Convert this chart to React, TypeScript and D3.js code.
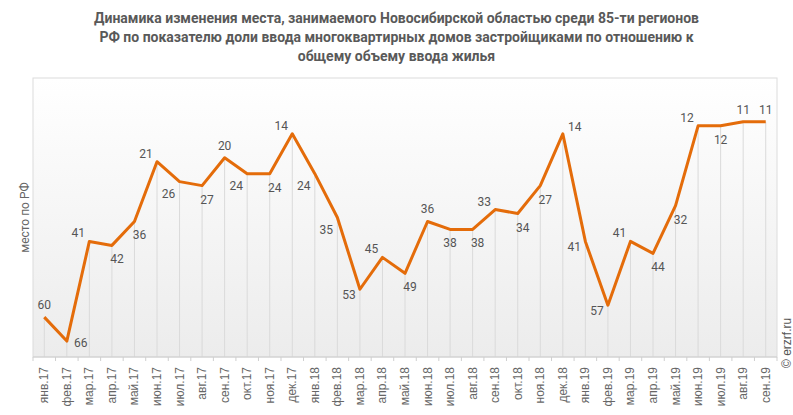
import React from "react";
import * as d3 from "d3";

const months = [
  "янв.17", "фев.17", "мар.17", "апр.17", "май.17", "июн.17", "июл.17", "авг.17", "сен.17", "окт.17", "ноя.17", "дек.17",
  "янв.18", "фев.18", "мар.18", "апр.18", "май.18", "июн.18", "июл.18", "авг.18", "сен.18", "окт.18", "ноя.18", "дек.18",
  "янв.19", "фев.19", "мар.19", "апр.19", "май.19", "июн.19", "июл.19", "авг.19", "сен.19",
];

const places = [
  60, 66, 41, 42, 36, 21, 26, 27, 20, 24, 24, 14,
  24, 35, 53, 45, 49, 36, 38, 38, 33, 34, 27, 14,
  41, 57, 41, 44, 32, 12, 12, 11, 11,
];

// where each value label sits relative to its point
const labelSide = [
  "t", "r", "tl", "br", "br", "tl", "bl", "br", "t", "bl", "br", "tl",
  "bl", "bl", "l", "tl", "br", "t", "b", "br", "tl", "br", "br", "tr",
  "l", "l", "tl", "br", "br", "tl", "b", "t", "t",
];

const titleLines = [
  "Динамика изменения места, занимаемого Новосибирской областью среди 85-ти регионов",
  "РФ по показателю доли ввода многоквартирных домов застройщиками по отношению к",
  "общему объему ввода жилья",
];

const sideOffset: Record<string, [number, number]> = {
  t: [0, -12],
  b: [0, 14],
  tl: [-11, -8],
  tr: [12, -7],
  bl: [-11, 12],
  br: [5, 14],
  l: [-11, 6],
  r: [14, 2],
};

const width = 793;
const height = 415;
const margin = { top: 78, right: 16, bottom: 58, left: 33 };

export default function App() {
  const x = d3
    .scaleBand<string>()
    .domain(months)
    .range([margin.left, width - margin.right])
    .padding(0);

  const y = d3
    .scaleLinear()
    .domain([0, 70])
    .range([margin.top, height - margin.bottom]);

  const cx = (m: string) => (x(m) ?? 0) + x.bandwidth() / 2;
  const bottom = height - margin.bottom;

  const line = d3
    .line<number>()
    .x((_, i) => cx(months[i]))
    .y((d) => y(d));

  const bounds = [...months.map((m) => x(m) ?? 0), width - margin.right];

  return (
    <svg
      width={width}
      height={height}
      style={{ position: "absolute", left: 0, top: 0, background: "#fff" }}
    >
      <defs>
        <linearGradient id="plotBg" x1="0" y1="0" x2="0" y2="1">
          <stop offset="0%" stopColor="#ffffff" />
          <stop offset="100%" stopColor="#ececec" />
        </linearGradient>
      </defs>

      {titleLines.map((t, i) => (
        <text
          key={i}
          x={width / 2}
          y={23 + i * 19}
          textAnchor="middle"
          fontFamily="Roboto, sans-serif"
          fontWeight="bold"
          fontSize={14}
          fill="#595959"
        >
          {t}
        </text>
      ))}

      <rect
        x={margin.left}
        y={margin.top}
        width={width - margin.left - margin.right}
        height={bottom - margin.top}
        fill="url(#plotBg)"
        stroke="#dcdcdc"
        strokeWidth={1}
      />

      {/* drop lines */}
      {places.map((v, i) => (
        <line
          key={i}
          x1={cx(months[i])}
          x2={cx(months[i])}
          y1={y(v)}
          y2={bottom}
          stroke="#dadada"
          strokeWidth={1}
        />
      ))}

      {/* x axis */}
      <line x1={margin.left} x2={width - margin.right} y1={bottom} y2={bottom} stroke="#cfcfcf" />
      {bounds.map((bx, i) => (
        <line key={i} x1={bx} x2={bx} y1={bottom} y2={bottom + 4} stroke="#cfcfcf" />
      ))}
      {months.map((m) => (
        <text
          key={m}
          transform={`translate(${cx(m) + 4},${bottom + 10}) rotate(-90)`}
          textAnchor="end"
          fontFamily="'Liberation Sans', Arial, sans-serif"
          fontSize={12}
          fill="#666"
        >
          {m}
        </text>
      ))}

      <text
        transform={`translate(29,${(margin.top + bottom) / 2}) rotate(-90)`}
        textAnchor="middle"
        fontFamily="Roboto, sans-serif"
        fontSize={12}
        fill="#666"
      >
        место по РФ
      </text>

      <path
        d={line(places) ?? ""}
        fill="none"
        stroke="#e46c0a"
        strokeWidth={3}
        strokeLinejoin="round"
      />

      {places.map((v, i) => {
        const [dx, dy] = sideOffset[labelSide[i]];
        return (
          <text
            key={i}
            x={cx(months[i]) + dx}
            y={y(v) + dy}
            textAnchor="middle"
            dominantBaseline="central"
            fontFamily="Roboto, sans-serif"
            fontSize={12}
            fill="#555"
          >
            {v}
          </text>
        );
      })}

      <text
        transform={`translate(791,368) rotate(-90)`}
        textAnchor="start"
        fontFamily="'Liberation Sans', Arial, sans-serif"
        fontSize={12}
        fill="#555"
      >
        © erzrf.ru
      </text>
    </svg>
  );
}
